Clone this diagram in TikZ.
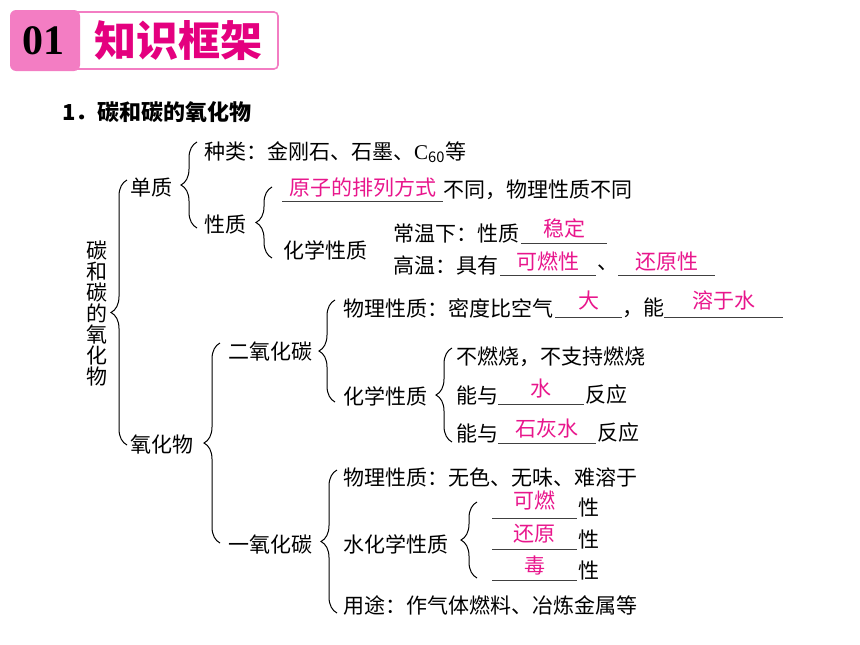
\documentclass[tikz,border=0pt]{standalone}
\usepackage{fontspec}
\setmainfont{Liberation Serif}
\newfontfamily\cjk{Noto Sans CJK SC}
\usetikzlibrary{decorations.pathreplacing}
\definecolor{hdpink}{RGB}{243,125,195}
\definecolor{anscol}{RGB}{232,22,140}
\definecolor{ttlcol}{RGB}{228,0,127}

\begin{document}
\begin{tikzpicture}[x=1pt,y=-1pt,
		txt/.style={anchor=west, inner sep=0pt, font=\cjk\fontsize{21}{21}\selectfont},
		anstxt/.style={inner sep=0pt, text=anscol, font=\cjk\fontsize{21}{21}\selectfont},
		brc/.style={decorate, decoration={brace, amplitude=16pt, aspect=#1}, line width=1pt},
		brc/.default=0.5,
		blank/.style={line width=0.8pt, draw=black!75}]
		\useasboundingbox (0,0) rectangle (860,645);

		\draw[hdpink, line width=1.6pt, rounded corners=4pt, fill=white] (40,12) rectangle (278,69);
		\fill[hdpink, rounded corners=6pt] (10,10) rectangle (80,71);
		\node[font=\bfseries\fontsize{42}{42}\selectfont, inner sep=0pt] (num) at (44,41) {01};
		\node[anchor=west, inner sep=0pt, text=ttlcol, font=\cjk\bfseries\fontsize{42}{42}\selectfont] (ttl) at (94,41) {知识框架};

		\node[txt, font=\cjk\bfseries\fontsize{22}{22}\selectfont] (sec) at (62,112) {1．碳和碳的氧化物};

		\node[inner sep=0pt, align=center, font=\cjk\fontsize{21}{21}\selectfont] (root) at (97,314) {碳\\和\\碳\\的\\氧\\化\\物};
		\draw[brc] (127,445) -- (127,180);
		\node[txt] (dz) at (130,188) {单质};
		\node[txt] (yhw) at (130,445) {氧化物};

		\draw[brc] (197,228) -- (197,142);
		\node[txt] (zl) at (204,152) {种类：金刚石、石墨、{\rmfamily C}\textsubscript{60}等};
		\node[txt] (xz) at (204,225) {性质};

		\draw[brc] (272,258) -- (272,187);
		\draw[blank] (282,201) -- (443,201) node[midway, above=3pt, anstxt] (a1) {原子的排列方式};
		\node[txt] (bt) at (443,190) {不同，物理性质不同};
		\node[txt] (hx1) at (283,250) {化学性质};
		\node[txt] (cw) at (393,234) {常温下：性质};
		\draw[blank] (521,243) -- (607,243) node[midway, above=4pt, anstxt] (a2) {稳定};
		\node[txt] (gw) at (393,265) {高温：具有};
		\draw[blank] (500,275) -- (596,275) node[midway, above=3pt, anstxt] (a3) {可燃性};
		\node[txt] (dun) at (597,268) {、};
		\draw[blank] (618,275) -- (715,275) node[midway, above=3pt, anstxt] (a4) {还原性};

		\node[txt] (eyht) at (228,352) {二氧化碳};
		\draw[brc] (335,402) -- (335,300);
		\node[txt] (wl1) at (343,308) {物理性质：密度比空气};
		\draw[blank] (555,317) -- (622,317) node[midway, above=6pt, anstxt] (a5) {大};
		\node[txt] (neng) at (622,308) {，能};
		\draw[blank] (664,317) -- (783,317) node[midway, above=6pt, anstxt] (a6) {溶于水};
		\node[txt] (hx2) at (343,396) {化学性质};
		\draw[brc] (452,442) -- (452,348);
		\node[txt] (bu) at (456,357) {不燃烧，不支持燃烧};
		\node[txt] (ny1) at (456,395) {能与};
		\draw[blank] (498,404) -- (584,404) node[midway, above=5pt, anstxt] (a7) {水};
		\node[txt] (fy1) at (585,395) {反应};
		\node[txt] (ny2) at (456,433) {能与};
		\draw[blank] (498,443) -- (596,443) node[midway, above=4pt, anstxt] (a8) {石灰水};
		\node[txt] (fy2) at (597,433) {反应};

		\draw[brc] (220,543) -- (220,343);
		\node[txt] (yyht) at (228,545) {一氧化碳};
		\draw[brc] (337,613) -- (337,470);
		\node[txt] (wl2) at (343,477) {物理性质：无色、无味、难溶于};
		\node[txt] (hx3) at (343,544) {水化学性质};
		\draw[brc] (477,578) -- (477,502);
		\draw[blank] (492,518) -- (577,518) node[midway, above=7pt, anstxt] (a9) {可燃};
		\node[txt] (x1) at (578,508) {性};
		\draw[blank] (492,549) -- (577,549) node[midway, above=5pt, anstxt] (a10) {还原};
		\node[txt] (x2) at (578,540) {性};
		\draw[blank] (492,580) -- (577,580) node[midway, above=4pt, anstxt] (a11) {毒};
		\node[txt] (x3) at (578,571) {性};
		\node[txt] (yt) at (343,605) {用途：作气体燃料、冶炼金属等};
	\end{tikzpicture}
\end{document}
